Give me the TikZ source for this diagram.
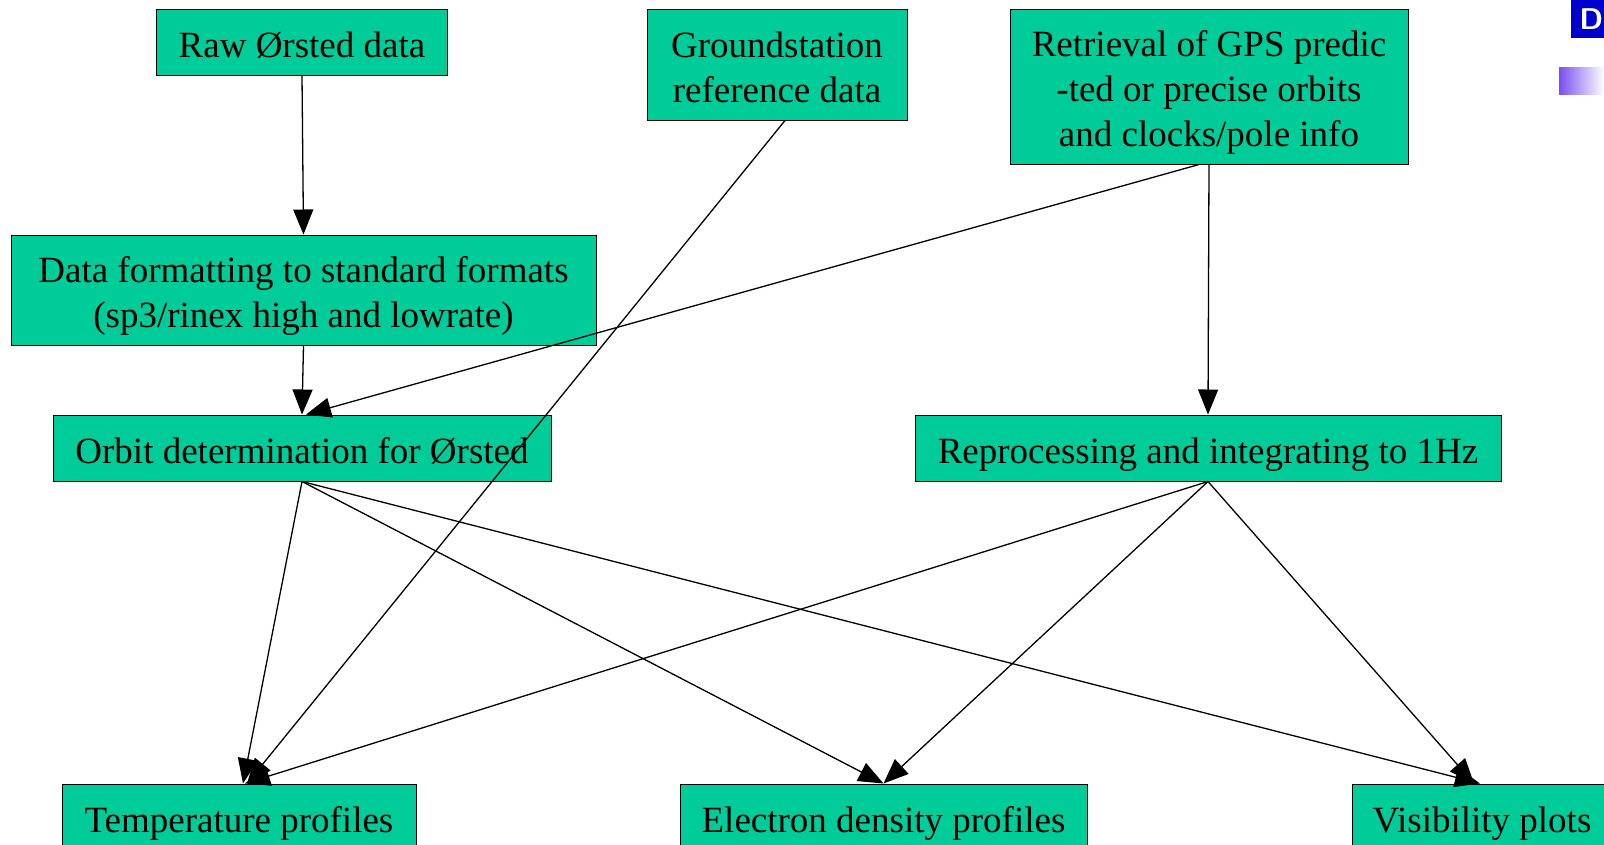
\documentclass[tikz,border=0pt]{standalone}
\usepackage{fontspec}
\setmainfont{Liberation Serif}
\usetikzlibrary{arrows.meta}
\definecolor{boxgreen}{RGB}{0,204,153}
\definecolor{logoblue}{RGB}{0,0,204}
\definecolor{barviolet}{RGB}{120,80,240}
% text sits a little below the middle of each box
\newcommand{\boxtext}[1]{\raisebox{-6pt}[\height][\depth]{\begin{tabular}{@{}c@{}}#1\end{tabular}}}
\begin{document}
\begin{tikzpicture}[x=1pt,y=-1pt]
        \tikzstyle{step box}=[rectangle,draw=black,line width=1pt,fill=boxgreen,inner sep=0pt,font=\fontsize{37}{45}\selectfont]
        \tikzstyle{edge}=[draw,line width=1.3pt,-{Triangle[length=25pt,width=20pt]}]
        \useasboundingbox (0,0) rectangle (1604,844);
        \clip (0,0) rectangle (1604,844);
        \begin{scope}
            \node [step box,minimum width=291,minimum height=66] (raw) at (302,42) {\boxtext{Raw Ørsted data}};
            \node [step box,minimum width=260,minimum height=111] (ground) at (777,64.5) {\boxtext{Groundstation\\ reference data}};
            \node [step box,minimum width=398,minimum height=155] (retr) at (1209,86.5) {\boxtext{Retrieval of GPS predic\\-ted or precise orbits\\and clocks/pole info}};
            \node [step box,minimum width=585,minimum height=110] (fmt) at (303.5,290) {\boxtext{Data formatting to standard formats\\(sp3/rinex high and lowrate)}};
            \node [step box,minimum width=498,minimum height=66] (orbit) at (302,448) {\boxtext{Orbit determination for Ørsted}};
            \node [step box,minimum width=586,minimum height=66] (repro) at (1208,448) {\boxtext{Reprocessing and integrating to 1Hz}};
            \node [step box,minimum width=354,minimum height=66] (temp) at (239,817) {\boxtext{Temperature profiles}};
            \node [step box,minimum width=407,minimum height=66] (elec) at (883.5,817) {\boxtext{Electron density profiles}};
            \node [step box,minimum width=260,minimum height=66] (vis) at (1482,817) {\boxtext{Visibility plots}};
            \path (raw.south) edge [edge] (fmt.north);
            \path (fmt.south) edge [edge] (orbit.north);
            \path ([xshift=-10pt]retr.south) edge [edge] ([xshift=4pt]orbit.north);
            \path (retr.south) edge [edge] (repro.north);
            \path ([xshift=8pt]ground.south) edge [edge] ([xshift=8pt]temp.north);
            \path (orbit.south) edge [edge] ([xshift=4pt]temp.north);
            \path (orbit.south) edge [edge] (elec.north);
            \path (orbit.south) edge [edge] ([xshift=-2pt]vis.north);
            \path (repro.south) edge [edge] ([xshift=6pt]temp.north);
            \path (repro.south) edge [edge] (elec.north);
            \path (repro.south) edge [edge] ([xshift=-8pt]vis.north);
        \end{scope}
        % corner logo pieces
        \node [fill=logoblue,text=white,font=\sffamily\bfseries\fontsize{30}{30}\selectfont,minimum width=40,minimum height=38,inner sep=0pt,anchor=north west] (logo) at (1571,0) {D};
        \shade [left color=barviolet,right color=white] (1559,67) rectangle (1604,94);
\end{tikzpicture}
\end{document}
